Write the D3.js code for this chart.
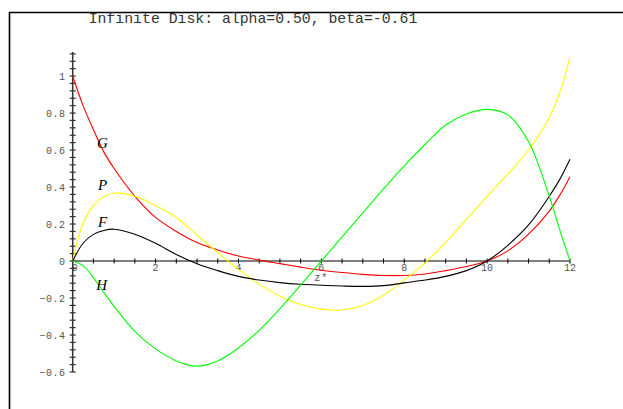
<!DOCTYPE html>
<html>
<head>
<meta charset="utf-8">
<script src="https://cdn.jsdelivr.net/npm/d3@7"></script>
<style>
  body { margin: 0; background: #fff; }
  svg { display: block; }
</style>
</head>
<body>
<div id="vis"></div>
<script>
// z* sample points and curve values
const zs = [0, 0.25, 0.5, 0.75, 1, 1.5, 2, 2.5, 3, 3.5, 4, 4.5, 5, 5.5, 6, 6.5, 7, 7.5, 8, 8.5, 9, 9.5, 10, 10.5, 11, 11.5, 11.75, 12];
const G = [1.0, 0.84, 0.71, 0.59, 0.50, 0.35, 0.236, 0.16, 0.10, 0.06, 0.027, 0.005, -0.014, -0.033, -0.05, -0.062, -0.072, -0.078, -0.078, -0.07, -0.052, -0.03, 0.0, 0.055, 0.145, 0.27, 0.355, 0.456];
const F = [0, 0.096, 0.144, 0.165, 0.172, 0.145, 0.096, 0.035, -0.015, -0.052, -0.083, -0.103, -0.117, -0.126, -0.131, -0.135, -0.137, -0.133, -0.118, -0.103, -0.083, -0.052, 0.0, 0.085, 0.195, 0.35, 0.44, 0.55];
const P = [0, 0.204, 0.30, 0.348, 0.368, 0.35, 0.30, 0.235, 0.14, 0.045, -0.045, -0.125, -0.19, -0.235, -0.26, -0.265, -0.24, -0.185, -0.103, -0.01, 0.10, 0.225, 0.35, 0.47, 0.60, 0.775, 0.91, 1.10];
const H = [0, -0.025, -0.09, -0.17, -0.245, -0.38, -0.475, -0.54, -0.568, -0.54, -0.47, -0.375, -0.258, -0.13, 0, 0.13, 0.26, 0.39, 0.515, 0.63, 0.735, 0.795, 0.82, 0.79, 0.645, 0.35, 0.17, 0];

const xTickLabels = [0, 2, 4, 6, 8, 10, 12];
const yTickLabels = [-0.6, -0.4, -0.2, 0, 0.2, 0.4, 0.6, 0.8, 1];

const series = [
  {name: "G", vals: G, color: "#ff0000", lx: 0.72, ly: 0.64},
  {name: "P", vals: P, color: "#ffff00", lx: 0.72, ly: 0.41},
  {name: "F", vals: F, color: "#000000", lx: 0.72, ly: 0.21},
  {name: "H", vals: H, color: "#00ff00", lx: 0.70, ly: -0.13}
];

const W = 623, Hgt = 409;
const svg = d3.select("#vis").append("svg")
  .attr("width", W)
  .attr("height", Hgt);

// frame
svg.append("path")
  .attr("d", "M9.5," + Hgt + "V12.5H" + W)
  .attr("fill", "none")
  .attr("stroke", "#000")
  .attr("stroke-width", 1.6);

svg.append("text")
  .attr("x", 253)
  .attr("y", 22.5)
  .attr("text-anchor", "middle")
  .style("font-family", "Liberation Mono, Courier New, monospace")
  .style("font-size", "14.8px")
  .attr("fill", "#333")
  .text("Infinite Disk: alpha=0.50, beta=-0.61");

const x = d3.scaleLinear().domain([0, 12]).range([72.7, 570]);
const y = d3.scaleLinear().domain([-0.6, 1.13]).range([372, 52]);

// x axis
svg.append("line")
  .attr("x1", x(0)).attr("x2", x(12))
  .attr("y1", y(0)).attr("y2", y(0))
  .attr("stroke", "#000").attr("stroke-width", 1.2);
svg.selectAll(".xt")
  .data(d3.range(0, 12.01, 0.5))
  .enter().append("line")
  .attr("class", "xt")
  .attr("x1", d => x(d)).attr("x2", d => x(d))
  .attr("y1", y(0) - 2.5).attr("y2", y(0) + 2.5)
  .attr("stroke", "#000").attr("stroke-width", 1);
svg.selectAll(".xl")
  .data(xTickLabels)
  .enter().append("text")
  .attr("class", "xl")
  .attr("x", d => x(d) + (d === 0 ? 2 : 0))
  .attr("y", y(0) + 9.5)
  .attr("text-anchor", "middle")
  .style("font-family", "Liberation Mono, monospace")
  .style("font-size", "10px")
  .attr("fill", "#555")
  .text(d => d);
svg.append("text")
  .attr("x", x(6))
  .attr("y", y(0) + 20)
  .attr("text-anchor", "middle")
  .style("font-family", "Liberation Mono, monospace")
  .style("font-size", "10px")
  .style("letter-spacing", "1px")
  .attr("fill", "#555")
  .text("z*");

// y axis
svg.append("line")
  .attr("x1", x(0)).attr("x2", x(0))
  .attr("y1", y(-0.6)).attr("y2", y(1.13))
  .attr("stroke", "#333").attr("stroke-width", 1.5);
svg.selectAll(".yt")
  .data(d3.range(-0.6, 1.13, 0.04))
  .enter().append("line")
  .attr("class", "yt")
  .attr("x1", x(0) - 3).attr("x2", x(0) + 3)
  .attr("y1", d => y(d)).attr("y2", d => y(d))
  .attr("stroke", "#333").attr("stroke-width", 1.2);
svg.selectAll(".yl")
  .data(yTickLabels)
  .enter().append("text")
  .attr("class", "yl")
  .attr("x", x(0) - 7)
  .attr("y", d => y(d) + 3.5)
  .attr("text-anchor", "end")
  .style("font-family", "Liberation Mono, monospace")
  .style("font-size", "10px")
  .style("letter-spacing", "0.6px")
  .attr("fill", "#555")
  .text(d => d === 0 ? "0" : d3.format("")(Math.round(d * 10) / 10));

// curves
const line = d3.line()
  .x((d, i) => x(zs[i]))
  .y(d => y(d))
  .curve(d3.curveCatmullRom.alpha(0.5));

svg.selectAll(".curve")
  .data(series)
  .enter().append("path")
  .attr("class", "curve")
  .attr("d", d => line(d.vals))
  .attr("fill", "none")
  .attr("stroke", d => d.color)
  .attr("stroke-width", 1.1);

svg.selectAll(".clab")
  .data(series)
  .enter().append("text")
  .attr("class", "clab")
  .attr("x", d => x(d.lx))
  .attr("y", d => y(d.ly))
  .attr("dy", "0.35em")
  .attr("text-anchor", "middle")
  .style("font-family", "Liberation Serif, Times New Roman, serif")
  .style("font-style", "italic")
  .style("font-size", "15px")
  .attr("fill", "#000")
  .text(d => d.name);
</script>
</body>
</html>
